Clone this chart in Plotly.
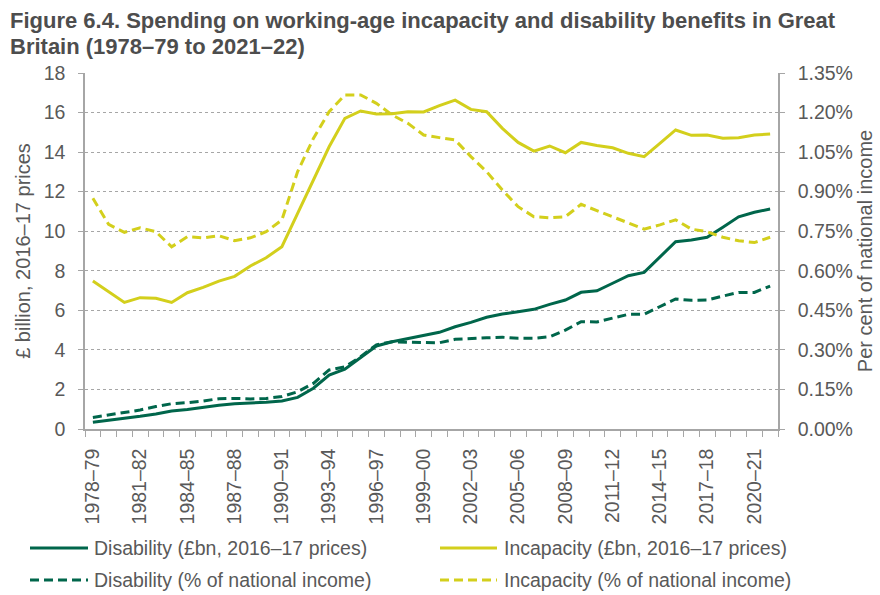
import plotly.graph_objects as go

# Financial years on the x axis
periods = [
    "1978–79", "1979–80", "1980–81", "1981–82", "1982–83", "1983–84", "1984–85",
    "1985–86", "1986–87", "1987–88", "1988–89", "1989–90", "1990–91", "1991–92",
    "1992–93", "1993–94", "1994–95", "1995–96", "1996–97", "1997–98", "1998–99",
    "1999–00", "2000–01", "2001–02", "2002–03", "2003–04", "2004–05", "2005–06",
    "2006–07", "2007–08", "2008–09", "2009–10", "2010–11", "2011–12", "2012–13",
    "2013–14", "2014–15", "2015–16", "2016–17", "2017–18", "2018–19", "2019–20",
    "2020–21", "2021–22",
]

# £bn, 2016–17 prices (left axis)
disability_bn = [
    0.34, 0.44, 0.51, 0.64, 0.76, 0.91, 0.99, 1.10, 1.20, 1.28, 1.31, 1.35, 1.42, 1.60,
    2.06, 2.73, 3.02, 3.60, 4.20, 4.41, 4.58, 4.75, 4.89, 5.17, 5.39, 5.65, 5.81, 5.93,
    6.05, 6.30, 6.52, 6.91, 6.99, 7.37, 7.75, 7.92, 8.71, 9.47, 9.56, 9.69, 10.20, 10.73,
    10.96, 11.12,
]
incapacity_bn = [
    7.48, 6.94, 6.40, 6.64, 6.61, 6.40, 6.89, 7.16, 7.48, 7.72, 8.24, 8.66, 9.22, 10.90,
    12.59, 14.27, 15.71, 16.08, 15.93, 15.94, 16.04, 16.03, 16.35, 16.63, 16.16, 16.04,
    15.20, 14.49, 14.05, 14.31, 13.97, 14.49, 14.33, 14.22, 13.94, 13.77, 14.44, 15.12,
    14.85, 14.86, 14.70, 14.73, 14.86, 14.91,
]

# Per cent of national income (right axis)
disability_pct = [
    0.044, 0.053, 0.063, 0.072, 0.085, 0.096, 0.100, 0.106, 0.115, 0.116, 0.114, 0.116,
    0.123, 0.141, 0.173, 0.224, 0.236, 0.274, 0.319, 0.331, 0.329, 0.327, 0.327, 0.340,
    0.344, 0.346, 0.348, 0.344, 0.344, 0.350, 0.375, 0.407, 0.406, 0.420, 0.435, 0.435,
    0.464, 0.493, 0.488, 0.489, 0.504, 0.518, 0.518, 0.542,
]
incapacity_pct = [
    0.875, 0.776, 0.746, 0.763, 0.748, 0.691, 0.729, 0.725, 0.733, 0.714, 0.725, 0.748,
    0.793, 0.976, 1.102, 1.203, 1.267, 1.267, 1.235, 1.191, 1.159, 1.115, 1.105, 1.096,
    1.033, 0.976, 0.906, 0.843, 0.805, 0.801, 0.805, 0.852, 0.828, 0.805, 0.784, 0.758,
    0.774, 0.793, 0.758, 0.748, 0.727, 0.714, 0.707, 0.727,
]

GREEN = "#00664b"
YELLOW = "#d3cf1c"
GREY_TEXT = "#595959"
AXIS_GREY = "#a6a6a6"
FONT = "Liberation Sans, Arial, sans-serif"
TITLE_FONT = "Liberation Sans Narrow, Arial Narrow, Liberation Sans, sans-serif"
DASH = "9px,5px"

W, H = 880, 595
M_L, M_R, M_T, M_B = 85, 102, 73, 166
PW, PH = W - M_L - M_R, H - M_T - M_B


def px_x(x):
    """Page pixel -> paper fraction (horizontal)."""
    return (x - M_L) / PW


def px_y(y):
    """Page pixel -> paper fraction (vertical)."""
    return (H - M_B - y) / PH


x_idx = list(range(len(periods)))
label_idx = x_idx[::3]

series = [
    ("Disability (£bn, 2016–17 prices)", disability_bn, GREEN, "solid", "y"),
    ("Incapacity (£bn, 2016–17 prices)", incapacity_bn, YELLOW, "solid", "y"),
    ("Disability (% of national income)", disability_pct, GREEN, DASH, "y2"),
    ("Incapacity (% of national income)", incapacity_pct, YELLOW, DASH, "y2"),
]

fig = go.Figure()
for name, vals, color, dash, axis in series:
    fig.add_trace(go.Scatter(
        x=x_idx, y=vals, name=name, mode="lines",
        line=dict(color=color, width=3, dash=dash), yaxis=axis,
        showlegend=False,
    ))

# Two-column key beneath the x-axis labels
shapes, annotations = [], []
key_cols = [(30, 88, 92), (440, 497, 502)]
key_rows = [548, 580]
for k, (name, _, color, dash, _) in enumerate(series):
    x0, x1, xt = key_cols[k % 2]
    yy = px_y(key_rows[k // 2])
    shapes.append(dict(
        type="line", xref="paper", yref="paper",
        x0=px_x(x0), x1=px_x(x1), y0=yy, y1=yy,
        line=dict(color=color, width=3, dash=dash),
    ))
    annotations.append(dict(
        text=name, xref="paper", yref="paper", x=px_x(xt), y=yy,
        xanchor="left", yanchor="middle", showarrow=False,
        font=dict(family=FONT, size=19.5, color=GREY_TEXT),
    ))

# Two-line heading
for line, y_pix in [
    ("Figure 6.4. Spending on working-age incapacity and disability benefits in Great", 20),
    ("Britain (1978–79 to 2021–22)", 46),
]:
    annotations.append(dict(
        text=f"<b>{line}</b>", xref="paper", yref="paper",
        x=px_x(8), y=px_y(y_pix), xanchor="left", yanchor="middle", showarrow=False,
        font=dict(family=TITLE_FONT, size=22, color="#4d4d4d"),
    ))

fig.update_layout(
    template="none",
    width=W, height=H,
    margin=dict(l=M_L, r=M_R, t=M_T, b=M_B, autoexpand=False),
    paper_bgcolor="white", plot_bgcolor="white",
    font=dict(family=FONT, color=GREY_TEXT, size=19.5),
    showlegend=False,
    xaxis=dict(
        range=[-0.5, len(periods) - 0.5], automargin=False,
        tickmode="array", tickvals=label_idx,
        ticktext=[periods[i] for i in label_idx],
        tickangle=-90, ticks="", ticklabelstandoff=10,
        showgrid=False, zeroline=False,
        showline=True, linecolor=AXIS_GREY, linewidth=1.5,
        tickfont=dict(size=19.5, color=GREY_TEXT),
        minor=dict(tick0=-0.5, dtick=1, ticks="outside", ticklen=6,
                   tickcolor=AXIS_GREY, tickwidth=1, showgrid=False),
    ),
    yaxis=dict(
        range=[0, 18], dtick=2, tick0=0, automargin=False,
        showgrid=True, gridcolor=AXIS_GREY, griddash="dot", gridwidth=1,
        zeroline=False, showline=True, linecolor=AXIS_GREY, linewidth=1.5,
        ticks="outside", ticklen=5, tickcolor=AXIS_GREY, ticklabelstandoff=9,
        tickfont=dict(size=19.5, color=GREY_TEXT),
        title=dict(text="£ billion, 2016–17 prices", standoff=8,
                   font=dict(size=20, color=GREY_TEXT)),
    ),
    yaxis2=dict(
        range=[0, 1.35], dtick=0.15, tick0=0, overlaying="y", side="right",
        automargin=False, tickformat=".2f", ticksuffix="%",
        showgrid=False, zeroline=False, showline=True, linecolor=AXIS_GREY, linewidth=1.5,
        ticks="outside", ticklen=5, tickcolor=AXIS_GREY, ticklabelstandoff=9,
        tickfont=dict(size=19.5, color=GREY_TEXT),
        title=dict(text="Per cent of national income", standoff=6,
                   font=dict(size=20, color=GREY_TEXT)),
    ),
    shapes=shapes,
    annotations=annotations,
)

fig.write_html("out.html")
